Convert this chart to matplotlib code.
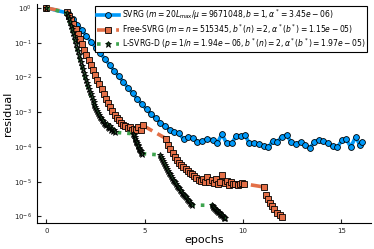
import numpy as np
import matplotlib.pyplot as plt

# SVRG: epochs and log10(residual)
svrg_ep = [0.00, 1.10, 1.34, 1.57, 1.81, 2.04, 2.28, 2.51, 2.75, 2.98, 3.22, 3.45, 3.69,
           3.92, 4.16, 4.39, 4.63, 4.86, 5.10, 5.33, 5.57, 5.80, 6.04, 6.27, 6.51, 6.74,
           6.98, 7.21, 7.45, 7.68, 7.92, 8.19, 8.46, 8.70, 8.92, 9.17, 9.42, 9.64, 9.88,
           10.10, 10.32, 10.57, 10.83, 11.07, 11.29, 11.51, 11.74, 11.96, 12.22, 12.44,
           12.67, 12.93, 13.15, 13.40, 13.62, 13.86, 14.08, 14.31, 14.55, 14.79, 15.03,
           15.24, 15.47, 15.72, 15.94, 16.04]
svrg_log = [0.00, -0.15, -0.31, -0.48, -0.64, -0.81, -0.97, -1.14, -1.31, -1.47, -1.64,
            -1.81, -1.97, -2.13, -2.30, -2.46, -2.62, -2.77, -2.92, -3.06, -3.18, -3.30,
            -3.40, -3.50, -3.57, -3.61, -3.78, -3.70, -3.74, -3.85, -3.84, -3.76, -3.80,
            -3.88, -3.63, -3.90, -3.90, -3.69, -3.69, -3.66, -3.90, -3.88, -3.92, -3.98,
            -4.01, -3.82, -3.85, -3.71, -3.65, -3.87, -3.92, -3.85, -3.95, -4.04, -3.85,
            -3.80, -3.83, -3.90, -3.98, -4.01, -3.80, -3.78, -4.00, -3.71, -3.95, -3.85]

# Free-SVRG
free_ep = [0.00, 1.05, 1.16, 1.27, 1.38, 1.49, 1.60, 1.71, 1.82, 1.93, 2.04, 2.15, 2.26,
           2.37, 2.48, 2.59, 2.70, 2.81, 2.92, 3.03, 3.14, 3.25, 3.36, 3.47, 3.58, 3.69,
           3.80, 3.91, 4.02, 4.13, 4.24, 4.35, 4.46, 4.57, 4.68, 4.79, 4.90,
           6.09, 6.20, 6.31, 6.42, 6.53, 6.64, 6.75, 6.86, 6.97, 7.08, 7.19, 7.30, 7.41,
           7.52, 7.63, 7.74, 7.85, 7.96, 8.07, 8.18, 8.29, 8.40, 8.51, 8.62, 8.73, 8.84,
           8.95, 9.06, 9.17, 9.28, 9.39, 9.50, 9.61, 9.72, 9.83, 9.94, 10.05,
           11.05, 11.17, 11.27, 11.35, 11.47, 11.59, 11.73, 11.86, 11.99]
free_log = [0.00, -0.12, -0.22, -0.34, -0.47, -0.61, -0.75, -0.90, -1.05, -1.20, -1.35,
            -1.50, -1.64, -1.78, -1.92, -2.06, -2.20, -2.34, -2.48, -2.61, -2.74, -2.86,
            -2.97, -3.07, -3.16, -3.23, -3.30, -3.36, -3.40, -3.45, -3.43, -3.50, -3.48,
            -3.52, -3.44, -3.50, -3.38,
            -3.76, -3.95, -4.06, -4.17, -4.28, -4.38, -4.46, -4.53, -4.58, -4.62, -4.68,
            -4.74, -4.78, -4.83, -4.90, -4.95, -4.99, -4.93, -5.02, -4.86, -5.00, -4.95,
            -5.05, -4.92, -5.06, -5.00, -4.80, -5.04, -4.98, -5.10, -5.02, -5.07, -5.06,
            -5.08, -5.07, -5.03, -5.06,
            -5.15, -5.39, -5.50, -5.60, -5.70, -5.79, -5.89, -5.95, -6.02]

# L-SVRG-D
lsvrg_ep = [0.00,
            1.05, 1.10, 1.15, 1.20, 1.25, 1.30, 1.35, 1.40, 1.45, 1.50, 1.55, 1.60, 1.65,
            1.70, 1.75, 1.80, 1.85, 1.90, 1.95, 2.00, 2.05, 2.10, 2.15, 2.20, 2.25, 2.30,
            2.35, 2.40, 2.45, 2.50, 2.55, 2.60, 2.65, 2.70, 2.75, 2.80, 2.85, 2.90, 2.95,
            3.00, 3.05, 3.10, 3.15, 3.20, 3.25, 3.30, 3.35, 3.40, 3.45, 3.50,
            4.43, 4.46, 4.49, 4.52, 4.55, 4.58, 4.61, 4.64, 4.67, 4.70, 4.73, 4.76, 4.79,
            4.82, 4.85,
            5.79, 5.84, 5.89, 5.94, 5.99, 6.04, 6.09, 6.14, 6.19, 6.24, 6.29, 6.34, 6.39,
            6.44, 6.49, 6.54, 6.59, 6.64, 6.69, 6.74, 6.79, 6.84, 6.89, 6.94, 6.99, 7.04,
            7.09, 7.14, 7.19, 7.24, 7.29, 7.34, 7.39,
            8.41, 8.45, 8.49, 8.53, 8.57, 8.61, 8.65, 8.69, 8.73, 8.77, 8.81, 8.85, 8.89,
            8.93, 8.97, 9.01, 9.05, 9.09]
lsvrg_log = [0.00,
             -0.15, -0.23, -0.32, -0.41, -0.51, -0.61, -0.71, -0.81, -0.92, -1.03, -1.14,
             -1.25, -1.35, -1.46, -1.57, -1.67, -1.77, -1.87, -1.97, -2.06, -2.15, -2.24,
             -2.33, -2.41, -2.49, -2.57, -2.64, -2.71, -2.78, -2.85, -2.91, -2.97, -3.03,
             -3.08, -3.13, -3.18, -3.22, -3.26, -3.30, -3.33, -3.38, -3.35, -3.42, -3.45,
             -3.40, -3.50, -3.47, -3.55, -3.52, -3.58,
             -3.62, -3.67, -3.72, -3.77, -3.82, -3.86, -3.90, -3.94, -3.98, -4.02, -4.06,
             -4.10, -4.13, -4.16, -4.19,
             -4.23, -4.29, -4.35, -4.41, -4.47, -4.52, -4.58, -4.63, -4.69, -4.74, -4.79,
             -4.84, -4.89, -4.94, -4.98, -5.02, -5.07, -5.11, -5.15, -5.19, -5.23, -5.27,
             -5.31, -5.35, -5.38, -5.42, -5.45, -5.49, -5.53, -5.56, -5.60, -5.64, -5.67,
             -5.68, -5.70, -5.73, -5.75, -5.77, -5.80, -5.82, -5.84, -5.86, -5.88, -5.91,
             -5.93, -5.95, -5.97, -5.99, -6.01, -6.03, -6.05]

labels = [r"SVRG ($m = 20L_{\max}/\mu = 9671048, b = 1, \alpha^* = 3.45e-06$)",
          r"Free-SVRG ($m = n = 515345, b^*(n) = 2, \alpha^*(b^*) = 1.15e-05$)",
          r"L-SVRG-D ($p = 1/n = 1.94e-06, b^*(n) = 2, \alpha^*(b^*) = 1.97e-05$)"]
x_ticks = [0, 5, 10, 15]
y_ticks = [1e0, 1e-1, 1e-2, 1e-3, 1e-4, 1e-5, 1e-6]

fig, ax = plt.subplots(figsize=(3.74, 2.49), dpi=100)
fig.subplots_adjust(left=0.099, right=0.992, bottom=0.104, top=0.985)

ax.plot(svrg_ep, 10.0 ** np.array(svrg_log), color="#009AFA", lw=2.6, marker="o",
        ms=4.2, mfc="#009AFA", mec="black", mew=0.6, label=labels[0])
ax.plot(free_ep, 10.0 ** np.array(free_log), color="#E36F47", lw=2.6, ls="--",
        marker="s", ms=3.8, mfc="#E36F47", mec="black", mew=0.6, label=labels[1])
ax.plot(lsvrg_ep, 10.0 ** np.array(lsvrg_log), color="#3EA44E", lw=2.6, ls=":",
        marker="*", ms=5, mfc="#1F4F26", mec="black", mew=0.6, label=labels[2])

ax.set_yscale("log")
ax.set_xlim(-0.47, 16.5)
ax.set_ylim(10 ** -6.19, 10 ** 0.12)
ax.set_xticks(x_ticks)
ax.set_yticks(y_ticks)
ax.yaxis.set_minor_locator(plt.NullLocator())
ax.tick_params(direction="in", length=3, width=0.8, labelsize=5, colors="#222222")
ax.spines["top"].set_visible(False)
ax.spines["right"].set_visible(False)
ax.set_xlabel("epochs", fontsize=8, labelpad=1)
ax.set_ylabel("residual", fontsize=8, labelpad=1)

leg = ax.legend(loc="upper right", bbox_to_anchor=(0.988, 0.991), borderaxespad=0,
                fontsize=5.5, fancybox=False, framealpha=1, edgecolor="black",
                handlelength=2.9, handletextpad=0.3, labelspacing=0.05, borderpad=0.25)
leg.get_frame().set_linewidth(0.8)

fig.savefig("out.png", dpi=100)
